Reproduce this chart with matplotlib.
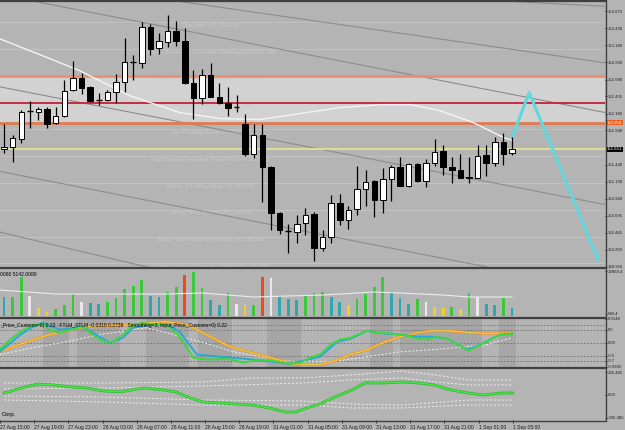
import matplotlib
matplotlib.use('Agg')
import numpy as np
import matplotlib.pyplot as plt
from matplotlib.patches import Rectangle

W, H = 625, 430
BG = '#b4b4b4'
DARK = '#202020'
plt.rcParams['font.family'] = ['Liberation Sans', 'DejaVu Sans']

# hourly candles, 27 Aug 16:00 .. 1 Sep 05:00
opens = [151.661, 151.690, 151.807, 152.214, 152.214, 152.257, 152.054, 152.155, 152.533, 152.708,
         152.577, 152.388, 152.388, 152.504, 152.650, 152.940, 152.926, 153.449, 153.144, 153.231,
         153.391, 153.246, 152.635, 152.417, 152.751, 152.432, 152.344, 152.272, 152.039, 151.589,
         151.879, 151.400, 150.731, 150.469, 150.455, 150.586, 150.717, 150.223, 150.382, 150.876,
         150.629, 150.789, 151.080, 151.196, 150.920, 151.225, 151.400, 151.124, 151.443, 151.196,
         151.458, 151.632, 151.400, 151.356, 151.240, 151.240, 151.574, 151.458, 151.763, 151.603]
highs = [152.039, 151.879, 152.243, 152.374, 152.286, 152.286, 152.286, 152.679, 152.955, 152.780,
         152.591, 152.490, 152.533, 152.766, 153.289, 153.042, 153.522, 153.493, 153.362, 153.624,
         153.536, 153.435, 152.824, 152.839, 152.926, 152.635, 152.577, 152.461, 152.185, 152.039,
         152.039, 151.414, 150.746, 150.571, 150.702, 150.804, 150.746, 150.484, 150.993, 151.007,
         150.833, 151.414, 151.356, 151.211, 151.385, 151.429, 151.545, 151.458, 151.458, 151.516,
         151.807, 151.719, 151.545, 151.589, 151.545, 151.719, 151.719, 151.836, 151.908, 151.836]
lows = [151.603, 151.472, 151.749, 151.981, 152.097, 151.981, 152.039, 152.141, 152.519, 152.475,
        152.359, 152.315, 152.374, 152.344, 152.504, 152.679, 152.853, 153.042, 153.057, 153.158,
        153.173, 152.621, 152.112, 152.330, 152.432, 152.330, 152.155, 152.214, 151.560, 151.531,
        150.891, 150.484, 150.426, 150.150, 150.295, 150.411, 150.033, 150.179, 150.295, 150.557,
        150.499, 150.702, 150.833, 150.673, 150.731, 150.905, 151.124, 151.109, 151.182, 151.109,
        151.414, 151.283, 151.167, 151.240, 151.167, 151.240, 151.269, 151.414, 151.429, 151.574]
closes = [151.690, 151.821, 152.214, 152.220, 152.257, 152.039, 152.155, 152.519, 152.708, 152.562,
          152.374, 152.390, 152.504, 152.650, 152.940, 152.945, 153.449, 153.129, 153.246, 153.391,
          153.246, 152.635, 152.417, 152.751, 152.432, 152.344, 152.272, 152.275, 151.589, 151.879,
          151.400, 150.731, 150.484, 150.472, 150.571, 150.702, 150.223, 150.382, 150.876, 150.629,
          150.775, 151.080, 151.182, 150.920, 151.225, 151.400, 151.124, 151.443, 151.196, 151.458,
          151.618, 151.400, 151.356, 151.240, 151.254, 151.560, 151.458, 151.763, 151.589, 151.661]

volumes = [5430, 5430, 11150, 5720, 2290, 1140, 2000, 3150, 6290, 4000,
           3720, 3430, 4000, 5150, 7720, 8580, 10300, 5720, 5430, 6860,
           8290, 11730, 12580, 8010, 4580, 3150, 6580, 3430, 3150, 3150,
           11150, 10870, 5720, 4860, 4580, 5720, 6580, 6860, 5430, 4000,
           3150, 4860, 6290, 8290, 11150, 6860, 5150, 3430, 4860, 4000,
           2570, 2290, 2570, 2000, 6580, 5430, 3430, 3150, 5150, 2290]
vol_kind = ['t', 'g', 'g', 'w', 'y', 'y', 'g', 'g', 'g', 'w',
            't', 't', 'g', 'g', 'g', 'g', 'g', 't', 't', 'g',
            'g', 'r', 'g', 'g', 't', 't', 'g', 'w', 'y', 'g',
            'r', 'w', 't', 't', 't', 'g', 'g', 'g', 't', 't',
            'y', 'g', 'g', 'g', 'g', 't', 't', 't', 'g', 'w',
            'y', 'y', 'g', 'y', 'g', 'w', 't', 't', 'g', 't']
vol_ma_x = [-0.5, 6, 19, 23, 29, 33, 37, 43, 46, 51, 54, 59]
vol_ma = [7440, 6290, 6290, 6580, 5430, 5720, 6000, 6860, 6580, 6000, 5430, 5430]

# smoothed centre line (white) and projection (cyan)
tma_x = [-0.5, 4.2, 8.8, 14.6, 20.4, 25.1, 29.7, 34.4, 39.0, 44.0, 47.2, 50.6, 54.5, 58.0, 59.1]
tma_y = [153.275, 153.042, 152.810, 152.446, 152.199, 152.112, 152.097, 152.185, 152.272, 152.315,
         152.315, 152.228, 152.054, 151.836, 151.792]
proj_x = [59, 61, 69]
proj_y = [151.836, 152.490, 150.048]

# trend / channel lines ((x0, p0), (x1, p1))
channels = [((57.6, 153.83), (69.8, 153.75)),
            ((19.9, 153.83), (69.8, 152.926)),
            ((3.2, 153.83), (69.8, 152.200)),
            ((-0.5, 152.575), (69.8, 150.857)),
            ((-0.5, 151.341), (56.1, 149.946)),
            ((-0.5, 150.455), (16.6, 149.946))]

murrey = [153.516, 153.125, 152.734, 152.344, 151.953, 151.562, 151.172, 150.781, 150.391, 150.000]
murrey_txt = ['Overshoot +1/8', 'Ultimate Resistance - Extremely Overbought 8/8',
              'Weak, Place to Stop and Reverse 7/8', 'Strong, Pivot, Reverse 6/8',
              'Top of Trading Range 5/8', 'Major Support/Resistance Pivotal Point 4/8',
              'Bottom of Trading Range 3/8', 'Strong, Pivot, Reverse 2/8',
              'Weak, Place to Stop and Reverse 1/8', 'Ultimate Support - Extremely Oversold 0/8']
zone_hi, zone_mid, zone_lo = 152.734, 152.344, 152.054
bid = 151.661

price_ticks = [153.675, 153.430, 153.180, 152.930, 152.680, 152.435, 152.185, 151.940,
               151.440, 151.190, 150.940, 150.695, 150.445, 150.200, 149.950]

# oscillator panel
osc_green_x = [-0.5, 0.7, 1.9, 3.4, 4.5, 5.3, 6.5, 7.7, 9.1, 10.3, 11.5, 12.7, 13.8, 15.0, 16.1,
               17.3, 18.9, 20.4, 22.0, 23.6, 25.9, 27.8, 29.7, 31.7, 33.2, 34.4, 35.5, 36.7, 37.9,
               39.0, 40.2, 42.2, 43.3, 45.2, 46.8, 48.0, 49.1, 50.3, 51.5, 52.6, 53.9, 54.9, 56.5,
               57.6, 59.0]
osc_green = [-0.27, 0.12, 0.42, 0.69, 0.73, 0.50, 0.38, 0.50, 0.62, 0.31, 0.04, 0.04, 0.31, 0.69, 0.77,
             0.69, 0.69, 0.23, -0.58, -0.65, -0.62, -0.77, -0.65, -0.73, -0.81, -0.77, -0.58, -0.46, -0.08,
             0.12, 0.19, 0.46, 0.38, 0.35, 0.27, 0.15, 0.12, 0.23, 0.15, -0.04, -0.31, -0.15, 0.12,
             0.31, 0.31]
osc_blue_x = [-0.5, 1.9, 3.4, 4.5, 6.5, 9.1, 10.3, 12.3, 13.8, 15.0, 17.0, 18.9, 20.4, 22.4, 25.1,
              28.9, 33.2, 36.7, 38.7, 40.2, 42.2, 43.3, 46.0, 48.0, 49.8, 51.5, 53.8, 55.3, 57.6, 59.0]
osc_blue = [-0.35, 0.31, 0.62, 0.77, 0.50, 0.62, 0.38, 0.00, 0.19, 0.58, 0.69, 0.69, 0.42, -0.46, -0.54,
            -0.65, -0.81, -0.54, 0.04, 0.15, 0.46, 0.38, 0.31, 0.23, 0.23, 0.15, -0.27, -0.08, 0.31, 0.35]
osc_slow_x = [-0.5, 3.4, 5.3, 7.3, 9.2, 11.1, 15.0, 17.0, 18.9, 21.3, 22.8, 26.2, 29.7, 33.6, 36.7,
              38.2, 40.2, 42.2, 44.0, 46.0, 48.0, 49.8, 51.5, 53.0, 56.1, 59.0]
osc_slow = [-0.35, 0.12, 0.31, 0.46, 0.62, 0.65, 0.69, 0.77, 0.81, 0.69, 0.43, -0.15, -0.46, -0.82, -0.85,
            -0.73, -0.46, -0.27, 0.00, 0.23, 0.38, 0.46, 0.46, 0.42, 0.35, 0.38]
osc_sig_x = [-0.5, 3.4, 7.3, 11.1, 15.0, 16.6, 22.8, 26.6, 30.5, 33.6, 38.2, 42.2, 46.0, 49.8, 53.8, 56.1, 59.0]
osc_sig = [-0.46, -0.19, 0.04, 0.31, 0.50, 0.58, 0.04, -0.35, -0.58, -0.73, -0.73, -0.54, -0.35, -0.27,
           -0.15, -0.08, 0.19]
# shaded hours behind the oscillator (start, end candle)
osc_shade = [(4.5, 7.5), (8.5, 13.5), (16.5, 21.5), (22.5, 26.5), (30.5, 34.5),
             (42.5, 45.2), (46.0, 50.5), (50.5, 55.5), (57.5, 59.5)]

# bottom panel
cci_x = [-0.5, 1.5, 3.4, 5.3, 7.3, 9.2, 11.1, 13.1, 15.0, 16.1, 18.1, 19.6, 21.3, 22.8, 24.7, 26.6,
         28.6, 30.5, 32.4, 33.6, 35.2, 36.4, 38.2, 40.2, 41.7, 44.0, 46.0, 48.0, 49.8, 51.8, 53.8,
         55.6, 57.6, 59.0]
cci = [18, 64, 101, 92, 73, 64, 37, 28, 55, 64, 46, 28, -28, -64, -73, -83, -92, -119, -156, -156,
       -110, -83, -18, 46, 110, 110, 119, 110, 92, 46, 18, 0, 18, 18]
band_x = [-0.5, 11.1, 22.8, 28.6, 34.4, 40.2, 46.0, 49.8, 53.8, 59.0]
band_up2 = [110, 110, 119, 156, 156, 184, 220, 184, 138, 138]
band_up1 = [55, 64, 83, 95, 110, 138, 156, 120, 92, 92]
band_dn1 = [-9, -18, -46, -50, -55, -83, -92, -70, -46, -46]
band_dn2 = [-46, -64, -92, -92, -92, -119, -119, -105, -92, -92]

tick_idx = [-1, 3, 7, 11, 15, 19, 23, 27, 31, 35, 39, 43, 47, 51, 55, 59]
tick_lbl = ['27 Aug 15:00', '27 Aug 19:00', '27 Aug 23:00', '28 Aug 03:00', '28 Aug 07:00',
            '28 Aug 11:00', '28 Aug 15:00', '28 Aug 19:00', '31 Aug 01:00', '31 Aug 05:00',
            '31 Aug 09:00', '31 Aug 13:00', '31 Aug 17:00', '31 Aug 21:00', '1 Sep 01:00',
            '1 Sep 05:00']

FS = 3.6     # chart texts
FSY = 3.1    # right-hand scale labels
XLIM = (-0.47, 69.8)


def rect(y0, y1, x0=0, x1=605):
    return [x0 / W, 1 - y1 / H, (x1 - x0) / W, (y1 - y0) / H]


def style(ax):
    ax.set_facecolor(BG)
    ax.set_xlim(*XLIM)
    for s in ax.spines.values():
        s.set_visible(False)
    ax.set_xticks([])
    ax.yaxis.tick_right()
    ax.tick_params(axis='y', length=1.5, width=0.6, pad=0.5, labelsize=FSY, colors=DARK)


fig = plt.figure(figsize=(W / 100, H / 100), dpi=100, facecolor=BG)

# ---- main price chart
ax = fig.add_axes(rect(1, 267))
style(ax)
ax.set_ylim(149.946, 153.827)
ax.axhspan(zone_lo, zone_hi, color='#d2d2d2', zorder=0)
for lv, t in zip(murrey, murrey_txt):
    ax.axhline(lv, color='#c2c2c2', lw=0.8, zorder=1)
    ax.text(24, lv - 0.045, '%s (%.3f)' % (t, lv), fontsize=FS, color='#cacaca',
            ha='center', va='center', zorder=1)
for (x0, p0), (x1, p1) in channels:
    ax.plot([x0, x1], [p0, p1], color='#8c8c8c', lw=0.8, zorder=2)
ax.axhline(zone_hi, color='#e89070', lw=2, zorder=2)
ax.axhline(zone_mid, color='#c8203a', lw=1.3, zorder=2)
ax.axhline(zone_lo, color='#e07a50', lw=2, zorder=2)
ax.axhline(bid, color='#dcdc96', lw=1.5, zorder=2)
ax.plot(tma_x, tma_y, color='#f4f4f4', lw=1.0, zorder=3)
ax.plot(proj_x, proj_y, color='#60d8dc', lw=2.2, zorder=3)

for i, (o, h, l, c) in enumerate(zip(opens, highs, lows, closes)):
    ax.vlines(i, l, h, color='black', lw=0.9, zorder=4)
    lo, hi = min(o, c), max(o, c)
    if hi - lo < 0.01:
        ax.hlines((o + c) / 2, i - 0.33, i + 0.33, color='black', lw=1, zorder=5)
    else:
        ax.add_patch(Rectangle((i - 0.32, lo), 0.64, hi - lo, facecolor='white' if c > o else 'black',
                               edgecolor='black', lw=0.7, zorder=5))

ax.set_yticks(price_ticks)
ax.set_yticklabels(['%.3f' % v for v in price_ticks])
for v, fc in [(zone_lo, '#e8601c'), (bid, 'black')]:
    ax.text(1.003, v, '%.3f' % v, transform=ax.get_yaxis_transform(), fontsize=FSY,
            color='white', va='center', ha='left',
            bbox=dict(boxstyle='square,pad=0.2', fc=fc, ec='none'))

# ---- volume panel
vcol = {'g': '#3cc83c', 't': '#2ea6ae', 'w': '#e8e8e8', 'y': '#f0d020', 'r': '#f04a1a'}
ax2 = fig.add_axes(rect(269, 317))
style(ax2)
ax2.set_ylim(-286, 13442)
ax2.bar(range(len(volumes)), volumes, width=0.32, color=[vcol[k] for k in vol_kind], zorder=2)
ax2.plot(vol_ma_x, vol_ma, color='#ececec', lw=0.8, zorder=3)
ax2.set_yticks([12868.4, 640.4])
ax2.set_yticklabels(['12868.4', '640.4'])
ax2.text(0.0, 0.88, '0080 5142.0080', transform=ax2.transAxes, fontsize=FS, color='black',
         va='center', ha='left')

# ---- oscillator panel
ax3 = fig.add_axes(rect(319, 367))
style(ax3)
ax3.set_ylim(-0.9382, 0.9148)
for a, b in osc_shade:
    ax3.axvspan(a, b, color='#a6a6a6', lw=0, zorder=0)
for lv in [0.7, 0.5, 0, -0.5, -0.7]:
    ax3.axhline(lv, color='#6e6e6e', lw=0.6, ls=(0, (2, 2)), zorder=1)
ax3.plot(osc_sig_x, osc_sig, color='#f0f0f0', lw=0.7, ls=(0, (2, 2)), zorder=2)
ax3.plot(osc_slow_x, osc_slow, color='#e8902c', lw=1.8, zorder=3)
ax3.plot(osc_slow_x, osc_slow, color='#f0d040', lw=0.8, zorder=3)
ax3.plot(osc_blue_x, osc_blue, color='#2aa8d8', lw=1.4, zorder=4)
ax3.plot(osc_green_x, osc_green, color='#3ed83e', lw=1.4, zorder=5)
ax3.set_yticks([0.9148, 0.5, 0, -0.5, -0.7, -0.9382])
ax3.set_yticklabels(['0.9148', '0.5', '0.00', '-0.5', '-0.7', '-0.9382'])
ax3.text(0.0, 0.86, '_Price_Customs=0) 0.22   FTLM_STLM -0.0318 0.2739   '
         'Smoothing=3, Input_Price_Customs=0) 0.22', transform=ax3.transAxes, fontsize=FS,
         color='black', va='center', ha='left', zorder=6)

# ---- bottom panel
ax4 = fig.add_axes(rect(369, 420))
style(ax4)
ax4.set_ylim(-229, 238)
for b in [band_up2, band_up1, band_dn1, band_dn2]:
    ax4.plot(band_x, b, color='#f0f0f0', lw=0.7, ls=(0, (2, 2)), zorder=2)
ax4.plot(cci_x, cci, color='#30b830', lw=2.0, zorder=3)
ax4.plot(cci_x, cci, color='#48ec48', lw=0.9, zorder=4)
ax4.set_yticks([206.485, 0, -206.485])
ax4.set_yticklabels(['206.485', '0.00', '-206.485'])
ax4.text(0.003, 0.1, 'Corp.', transform=ax4.transAxes, fontsize=FS + 0.6, color='black',
         va='center', ha='left')
ax4.set_xticks(tick_idx)
ax4.set_xticklabels(tick_lbl, ha='left')
ax4.tick_params(axis='x', length=2, width=0.6, pad=1.5, labelsize=FS, colors=DARK)

# ---- panel frames
ov = fig.add_axes([0, 0, 1, 1], facecolor='none', zorder=10)
ov.set_xlim(0, W)
ov.set_ylim(H, 0)
ov.axis('off')
for yy in [0.5, 268, 318, 368]:
    ov.plot([0, 605], [yy, yy], color='#404040', lw=1.6)
ov.plot([0, 605], [420.5, 420.5], color='#404040', lw=1.0)
ov.plot([605.5, 605.5], [0, 420.5], color='#404040', lw=1.0)

fig.savefig('out.png', dpi=100, facecolor=BG)
